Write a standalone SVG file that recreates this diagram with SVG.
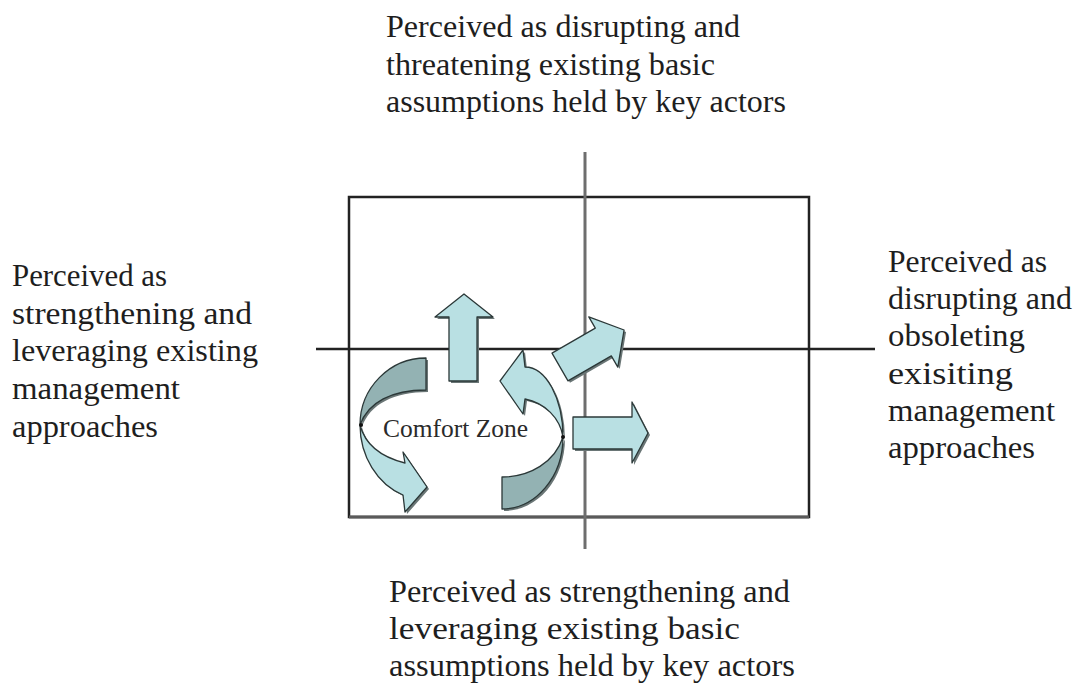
<svg xmlns="http://www.w3.org/2000/svg" width="1076" height="686" viewBox="0 0 1076 686">
<style>
.lbl{font-family:"Liberation Serif","Times New Roman",serif;font-size:31px;fill:#1e1e1e}
.cz{font-family:"Liberation Serif","Times New Roman",serif;font-size:25px;fill:#2a2a2a}
.lt{fill:#b9e0e3;stroke:#2b3838;stroke-width:1.3;stroke-linejoin:round}
.dk{fill:#93b2b3;stroke:#2b3838;stroke-width:1.3;stroke-linejoin:round}
.sh{fill:#6a7676;stroke:none}
</style>
<defs>
<path id="upA" d="M449,381 L449,317 L435,317 L464,294 L493,317 L477,317 L477,381 Z"/>
<path id="rtA" d="M573,417 L632,417 L632,402 L648,433 L632,463 L632,449 L573,449 Z"/>
<path id="dgA" transform="translate(560,367) rotate(-30)" d="M0,-16 L50,-16 L50,-29 L74,0 L50,29 L50,16 L0,16 Z"/>
<path id="lDk" d="M426,358 A66,67 0 0,0 360,425 C368,402 392,390 426,390 Z"/>
<path id="lLt" d="M360,425 A66,75 0 0,0 403,495 L405,512 L427,487 L403,452 L405,463 C385,458 366,448 360,425 Z"/>
<path id="rDk" d="M563,437 A61,72 0 0,1 502,509 L502,477 C530,477 555,462 563,437 Z"/>
<path id="rLt" d="M563,437 A38,70 0 0,0 525,367 L523,350 L500,381 L523,414 L525,399 C545,403 560,418 563,437 Z"/>
</defs>
<rect width="1076" height="686" fill="#ffffff"/>
<g id="frame">
<rect x="349" y="197" width="460" height="320" fill="none" stroke="#222" stroke-width="2.5"/>
<line x1="349" y1="517" x2="809" y2="517" stroke="#5a5a5a" stroke-width="3"/>
</g>
<g id="connectors">
<line x1="585" y1="152" x2="585" y2="549" stroke="#6e6e6e" stroke-width="3"/>
<line x1="316" y1="349" x2="875" y2="349" stroke="#222" stroke-width="2.5"/>
</g>
<g id="comfort-zone">
<g transform="translate(2,2)">
<use href="#lDk" class="sh"/><use href="#lLt" class="sh"/><use href="#rDk" class="sh"/><use href="#rLt" class="sh"/>
</g>
<use href="#lDk" class="dk"/>
<use href="#lLt" class="lt"/>
<use href="#rDk" class="dk"/>
<use href="#rLt" class="lt"/>
<circle cx="361" cy="425" r="2" fill="#111"/>
<circle cx="563" cy="437" r="2" fill="#111"/>
<text class="cz" x="383" y="437" textLength="145" lengthAdjust="spacingAndGlyphs">Comfort Zone</text>
</g>
<g id="arrow-up">
<use href="#upA" class="sh" transform="translate(2,2)"/>
<use href="#upA" class="lt"/>
</g>
<g id="arrow-diagonal">
<use href="#dgA" class="sh" transform="translate(2,2)"/>
<use href="#dgA" class="lt"/>
</g>
<g id="arrow-right">
<use href="#rtA" class="sh" transform="translate(2,2)"/>
<use href="#rtA" class="lt"/>
</g>
<g id="label-top">
<text class="lbl" x="386" y="37" textLength="354" lengthAdjust="spacingAndGlyphs">Perceived as disrupting and</text>
<text class="lbl" x="386" y="75" textLength="329" lengthAdjust="spacingAndGlyphs">threatening existing basic</text>
<text class="lbl" x="386" y="112" textLength="400" lengthAdjust="spacingAndGlyphs">assumptions held by key actors</text>
</g>
<g id="label-left">
<text class="lbl" x="12" y="286" textLength="155" lengthAdjust="spacingAndGlyphs">Perceived as</text>
<text class="lbl" x="12" y="324" textLength="240" lengthAdjust="spacingAndGlyphs">strengthening and</text>
<text class="lbl" x="12" y="361" textLength="246" lengthAdjust="spacingAndGlyphs">leveraging existing</text>
<text class="lbl" x="12" y="399" textLength="168" lengthAdjust="spacingAndGlyphs">management</text>
<text class="lbl" x="12" y="437" textLength="146" lengthAdjust="spacingAndGlyphs">approaches</text>
</g>
<g id="label-right">
<text class="lbl" x="888" y="272" textLength="159" lengthAdjust="spacingAndGlyphs">Perceived as</text>
<text class="lbl" x="888" y="309" textLength="184" lengthAdjust="spacingAndGlyphs">disrupting and</text>
<text class="lbl" x="888" y="346" textLength="137" lengthAdjust="spacingAndGlyphs">obsoleting</text>
<text class="lbl" x="888" y="384" textLength="125" lengthAdjust="spacingAndGlyphs">exisiting</text>
<text class="lbl" x="888" y="421" textLength="167" lengthAdjust="spacingAndGlyphs">management</text>
<text class="lbl" x="888" y="458" textLength="147" lengthAdjust="spacingAndGlyphs">approaches</text>
</g>
<g id="label-bottom">
<text class="lbl" x="389" y="602" textLength="401" lengthAdjust="spacingAndGlyphs">Perceived as strengthening and</text>
<text class="lbl" x="389" y="639" textLength="351" lengthAdjust="spacingAndGlyphs">leveraging existing basic</text>
<text class="lbl" x="389" y="676" textLength="406" lengthAdjust="spacingAndGlyphs">assumptions held by key actors</text>
</g>
</svg>
